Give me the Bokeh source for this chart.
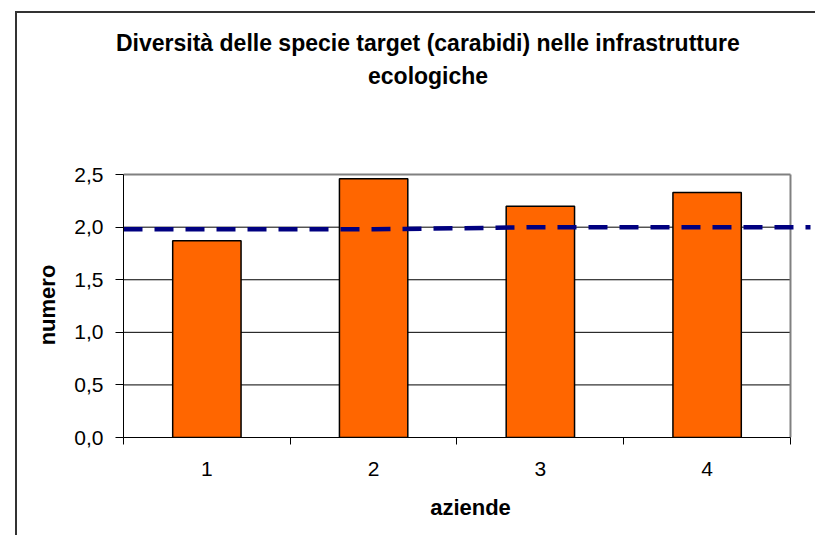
import math
from bokeh.plotting import figure
from bokeh.models import Range1d, FixedTicker, CustomJSTickFormatter, Title
from bokeh.embed import file_html
from bokeh.resources import INLINE

# ---- data ----
categories = ["1", "2", "3", "4"]
values = [1.87, 2.46, 2.2, 2.33]
reference = [1.98, 1.98, 2.0, 2.0]
y_ticks = [0.0, 0.5, 1.0, 1.5, 2.0, 2.5]
title_lines = ["Diversità delle specie target (carabidi) nelle infrastrutture", "ecologiche"]
x_title = "aziende"
y_title = "numero"

FONT = "Liberation Sans"

n = len(categories)
xc = list(range(1, n + 1))
x_lo, x_hi = 0.5, n + 0.5
x_start, x_end = 0.5, 4.662
line_end = 4.62

p = figure(width=800, height=524, output_backend="svg", toolbar_location=None,
           x_range=Range1d(x_start, x_end), y_range=Range1d(0, 2.52),
           min_border_left=106, min_border_right=0, min_border_top=159, min_border_bottom=100)
p.styles = {"margin-left": "15px", "margin-top": "11px",
            "border-left": "2px solid #333333", "border-top": "2px solid #333333",
            "border-right": "0px none", "border-bottom": "0px none"}
p.outline_line_color = None
p.background_fill_color = "white"
p.border_fill_color = "white"
p.xgrid.visible = False
p.ygrid.visible = False

# gridlines inside the plot area
grid_vals = y_ticks[1:-1]
p.segment(x0=[x_lo] * len(grid_vals), x1=[x_hi] * len(grid_vals), y0=grid_vals, y1=grid_vals,
          line_color="black", line_width=1)
# plot-area border (top / right)
p.segment(x0=[x_lo], x1=[x_hi], y0=[y_ticks[-1]], y1=[y_ticks[-1]], line_color="#808080", line_width=2)
p.segment(x0=[x_hi], x1=[x_hi], y0=[y_ticks[0]], y1=[y_ticks[-1]], line_color="#808080", line_width=2)

# bars
p.vbar(x=xc, top=values, bottom=0, width=0.41, fill_color="#FF6600",
       line_color="black", line_width=1.5)

# dashed reference line
rx = [x_start] + xc + [line_end]
ry = [reference[0]] + reference + [reference[-1]]
p.line(rx, ry, line_color="#000080", line_width=4.5, line_dash="19 12", line_cap="butt")

# axes
xa = p.xaxis[0]
xa.bounds = (x_lo, x_hi)
xa.ticker = FixedTicker(ticks=xc, minor_ticks=[i + 0.5 for i in range(0, n + 1)])
xa.major_label_overrides = {i: c for i, c in zip(xc, categories)}
xa.major_tick_out = 0
xa.major_tick_in = 0
xa.minor_tick_out = 7
xa.minor_tick_in = 0
xa.minor_tick_line_color = "black"
xa.axis_line_color = "black"
xa.major_label_standoff = 17
xa.major_label_text_font = FONT
xa.major_label_text_font_size = "21px"
xa.major_label_text_color = "black"
xa.axis_label = x_title
xa.axis_label_standoff = 16
xa.axis_label_text_font = FONT
xa.axis_label_text_font_style = "bold"
xa.axis_label_text_font_size = "22px"
xa.axis_label_text_color = "black"

ya = p.yaxis[0]
ya.bounds = (y_ticks[0], y_ticks[-1])
ya.ticker = FixedTicker(ticks=y_ticks, minor_ticks=[])
ya.formatter = CustomJSTickFormatter(code="return tick.toFixed(1).replace('.', ',');")
ya.major_tick_out = 8
ya.major_tick_in = 0
ya.major_tick_line_color = "black"
ya.axis_line_color = "black"
ya.major_label_standoff = 12
ya.major_label_text_font = FONT
ya.major_label_text_font_size = "21px"
ya.major_label_text_color = "black"
ya.axis_label = y_title
ya.axis_label_standoff = 11
ya.axis_label_text_font = FONT
ya.axis_label_text_font_style = "bold"
ya.axis_label_text_font_size = "22px"
ya.axis_label_text_color = "black"

# blank spacer between plot area and title
p.add_layout(Title(text=" ", standoff=81, text_font_size="1px", text_color="white"), "above")

# chart title: two lines, closest first
p.add_layout(Title(text=title_lines[1], align="left", offset=244.5, standoff=0, vertical_align="bottom",
                   text_font=FONT, text_font_style="bold", text_font_size="23px",
                   text_color="black"), "above")
p.add_layout(Title(text=title_lines[0], align="left", offset=-7.5, standoff=10, vertical_align="bottom",
                   text_font=FONT, text_font_style="bold", text_font_size="23px",
                   text_color="black"), "above")

open("out.html", "w").write(file_html(p, INLINE))
